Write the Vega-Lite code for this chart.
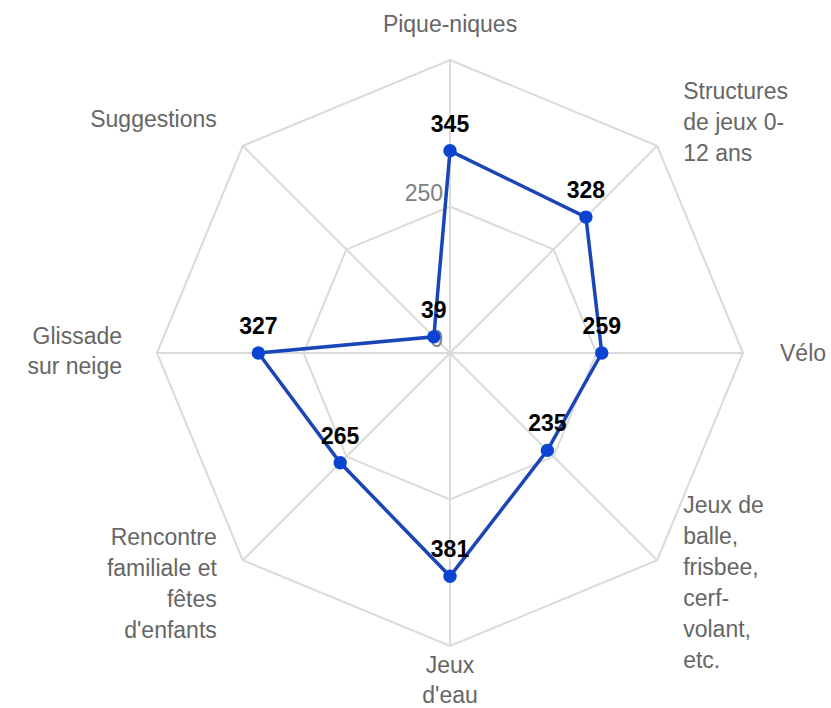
{
  "$schema": "https://vega.github.io/schema/vega-lite/v6.json",
  "autosize": "none",
  "width": 586,
  "height": 586,
  "padding": {"left": 157, "top": 60, "right": 88, "bottom": 62},
  "background": "white",
  "config": {"view": {"stroke": null}, "text": {"font": "Liberation Sans"}},
  "datasets": {
    "scores": [
      {"i": 0, "categorie": "Pique-niques", "etiquette": "Pique-niques", "valeur": 345},
      {"i": 1, "categorie": "Structures de jeux 0-12 ans", "etiquette": "Structures\nde jeux 0-\n12 ans", "valeur": 328},
      {"i": 2, "categorie": "Vélo", "etiquette": "Vélo", "valeur": 259},
      {"i": 3, "categorie": "Jeux de balle, frisbee, cerf-volant, etc.", "etiquette": "Jeux de\nballe,\nfrisbee,\ncerf-\nvolant,\netc.", "valeur": 235},
      {"i": 4, "categorie": "Jeux d'eau", "etiquette": "Jeux\nd'eau", "valeur": 381},
      {"i": 5, "categorie": "Rencontre familiale et fêtes d'enfants", "etiquette": "Rencontre\nfamiliale et\nfêtes\nd'enfants", "valeur": 265},
      {"i": 6, "categorie": "Glissade sur neige", "etiquette": "Glissade\nsur neige", "valeur": 327},
      {"i": 7, "categorie": "Suggestions", "etiquette": "Suggestions", "valeur": 39}
    ],
    "anneaux": [
      {"r": 250, "i": 0}, {"r": 250, "i": 1}, {"r": 250, "i": 2}, {"r": 250, "i": 3},
      {"r": 250, "i": 4}, {"r": 250, "i": 5}, {"r": 250, "i": 6}, {"r": 250, "i": 7},
      {"r": 500, "i": 0}, {"r": 500, "i": 1}, {"r": 500, "i": 2}, {"r": 500, "i": 3},
      {"r": 500, "i": 4}, {"r": 500, "i": 5}, {"r": 500, "i": 6}, {"r": 500, "i": 7}
    ],
    "graduations": [{"r": 0, "i": 0, "t": "0"}, {"r": 250, "i": 0, "t": "250"}]
  },
  "encoding": {
    "x": {"field": "x", "type": "quantitative", "scale": {"domain": [-500, 500], "nice": false, "zero": false}, "axis": null},
    "y": {"field": "y", "type": "quantitative", "scale": {"domain": [-500, 500], "nice": false, "zero": false}, "axis": null}
  },
  "layer": [
    {
      "data": {"name": "anneaux"},
      "transform": [
        {"calculate": "datum.r * sin(datum.i * PI / 4)", "as": "x"},
        {"calculate": "datum.r * cos(datum.i * PI / 4)", "as": "y"}
      ],
      "mark": {"type": "line", "interpolate": "linear-closed", "color": "#dadada", "strokeWidth": 2},
      "encoding": {"detail": {"field": "r"}, "order": {"field": "i"}}
    },
    {
      "data": {"name": "anneaux"},
      "transform": [
        {"filter": "datum.r == 500"},
        {"calculate": "datum.r * sin(datum.i * PI / 4)", "as": "x"},
        {"calculate": "datum.r * cos(datum.i * PI / 4)", "as": "y"}
      ],
      "mark": {"type": "rule", "color": "#dadada", "strokeWidth": 2},
      "encoding": {"x2": {"datum": 0}, "y2": {"datum": 0}}
    },
    {
      "data": {"name": "graduations"},
      "transform": [
        {"calculate": "datum.r * sin(datum.i * PI / 4)", "as": "x"},
        {"calculate": "datum.r * cos(datum.i * PI / 4)", "as": "y"}
      ],
      "mark": {"type": "text", "align": "right", "baseline": "alphabetic", "dx": -7, "dy": -6, "fontSize": 23, "color": "#808080"},
      "encoding": {"text": {"field": "t"}}
    },
    {
      "data": {"name": "scores"},
      "transform": [
        {"calculate": "datum.valeur * sin(datum.i * PI / 4)", "as": "x"},
        {"calculate": "datum.valeur * cos(datum.i * PI / 4)", "as": "y"}
      ],
      "mark": {"type": "line", "interpolate": "linear-closed", "color": "#1a45b8", "strokeWidth": 3.5},
      "encoding": {"order": {"field": "i"}}
    },
    {
      "data": {"name": "scores"},
      "transform": [
        {"calculate": "datum.valeur * sin(datum.i * PI / 4)", "as": "x"},
        {"calculate": "datum.valeur * cos(datum.i * PI / 4)", "as": "y"}
      ],
      "mark": {"type": "point", "filled": true, "size": 180, "color": "#0b44d2", "opacity": 1},
      "encoding": {"tooltip": [{"field": "categorie"}, {"field": "valeur"}]}
    },
    {
      "data": {"name": "scores"},
      "transform": [
        {"calculate": "datum.valeur * sin(datum.i * PI / 4)", "as": "x"},
        {"calculate": "datum.valeur * cos(datum.i * PI / 4)", "as": "y"}
      ],
      "mark": {"type": "text", "align": "center", "baseline": "alphabetic", "dy": -19, "fontSize": 23, "fontWeight": "bold", "color": "#000000"},
      "encoding": {"text": {"field": "valeur"}}
    },
    {
      "data": {"name": "scores"},
      "transform": [
        {"filter": "datum.i == 0"},
        {"calculate": "500 * sin(datum.i * PI / 4)", "as": "x"},
        {"calculate": "500 * cos(datum.i * PI / 4)", "as": "y"}
      ],
      "mark": {"type": "text", "align": "center", "baseline": "alphabetic", "dy": -28, "fontSize": 23, "color": "#666666", "lineBreak": "\n", "lineHeight": 31},
      "encoding": {"text": {"field": "etiquette"}}
    },
    {
      "data": {"name": "scores"},
      "transform": [
        {"filter": "datum.i == 1 || datum.i == 3"},
        {"calculate": "500 * sin(datum.i * PI / 4)", "as": "x"},
        {"calculate": "500 * cos(datum.i * PI / 4)", "as": "y"}
      ],
      "mark": {"type": "text", "align": "left", "baseline": "alphabetic", "dx": 26, "dy": -47, "fontSize": 23, "color": "#666666", "lineBreak": "\n", "lineHeight": 31},
      "encoding": {"text": {"field": "etiquette"}}
    },
    {
      "data": {"name": "scores"},
      "transform": [
        {"filter": "datum.i == 2"},
        {"calculate": "500 * sin(datum.i * PI / 4)", "as": "x"},
        {"calculate": "500 * cos(datum.i * PI / 4)", "as": "y"}
      ],
      "mark": {"type": "text", "align": "left", "baseline": "alphabetic", "dx": 37, "dy": 8, "fontSize": 23, "color": "#666666", "lineBreak": "\n", "lineHeight": 31},
      "encoding": {"text": {"field": "etiquette"}}
    },
    {
      "data": {"name": "scores"},
      "transform": [
        {"filter": "datum.i == 4"},
        {"calculate": "500 * sin(datum.i * PI / 4)", "as": "x"},
        {"calculate": "500 * cos(datum.i * PI / 4)", "as": "y"}
      ],
      "mark": {"type": "text", "align": "center", "baseline": "alphabetic", "dy": 27, "fontSize": 23, "color": "#666666", "lineBreak": "\n", "lineHeight": 30},
      "encoding": {"text": {"field": "etiquette"}}
    },
    {
      "data": {"name": "scores"},
      "transform": [
        {"filter": "datum.i == 5"},
        {"calculate": "500 * sin(datum.i * PI / 4)", "as": "x"},
        {"calculate": "500 * cos(datum.i * PI / 4)", "as": "y"}
      ],
      "mark": {"type": "text", "align": "right", "baseline": "alphabetic", "dx": -26, "dy": -15, "fontSize": 23, "color": "#666666", "lineBreak": "\n", "lineHeight": 31},
      "encoding": {"text": {"field": "etiquette"}}
    },
    {
      "data": {"name": "scores"},
      "transform": [
        {"filter": "datum.i == 6"},
        {"calculate": "500 * sin(datum.i * PI / 4)", "as": "x"},
        {"calculate": "500 * cos(datum.i * PI / 4)", "as": "y"}
      ],
      "mark": {"type": "text", "align": "right", "baseline": "alphabetic", "dx": -35, "dy": -9, "fontSize": 23, "color": "#666666", "lineBreak": "\n", "lineHeight": 30},
      "encoding": {"text": {"field": "etiquette"}}
    },
    {
      "data": {"name": "scores"},
      "transform": [
        {"filter": "datum.i == 7"},
        {"calculate": "500 * sin(datum.i * PI / 4)", "as": "x"},
        {"calculate": "500 * cos(datum.i * PI / 4)", "as": "y"}
      ],
      "mark": {"type": "text", "align": "right", "baseline": "alphabetic", "dx": -26, "dy": -19, "fontSize": 23, "color": "#666666", "lineBreak": "\n", "lineHeight": 31},
      "encoding": {"text": {"field": "etiquette"}}
    }
  ]
}
